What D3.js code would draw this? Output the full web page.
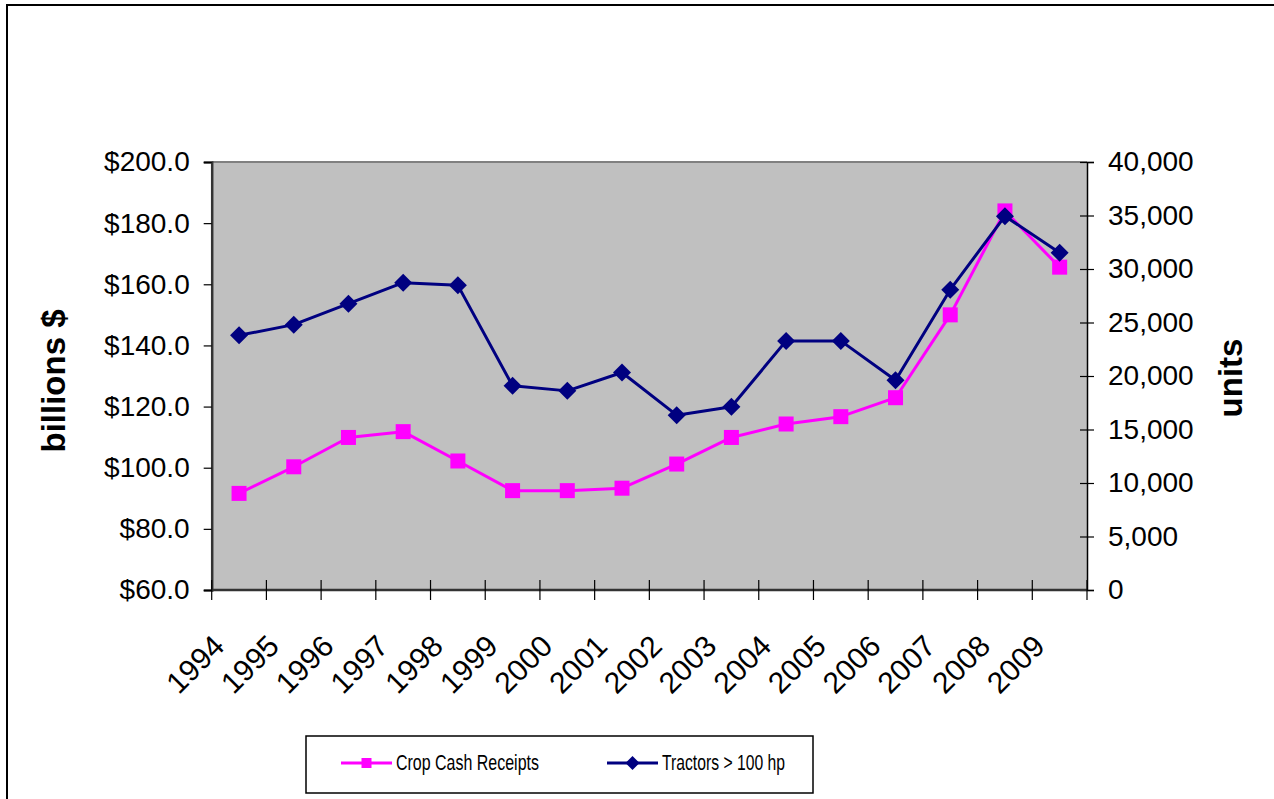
<!DOCTYPE html>
<html>
<head>
<meta charset="utf-8">
<script src="https://cdn.jsdelivr.net/npm/d3@7"></script>
<style>
  html, body { margin: 0; padding: 0; background: #fff; }
  svg { display: block; }
  text { font-family: "Liberation Sans", Arial, sans-serif; fill: #000; }
</style>
</head>
<body>
<svg id="chart" width="1274" height="799"></svg>
<script>
// Years on the category axis
const years = ["1994","1995","1996","1997","1998","1999","2000","2001",
               "2002","2003","2004","2005","2006","2007","2008","2009"];
// Crop cash receipts, billions of dollars (left axis)
const cropCashReceipts = [91.6, 100.3, 109.9, 111.8, 102.2, 92.5, 92.5, 93.3,
                          101.2, 109.9, 114.3, 116.7, 122.9, 150.0, 184.0, 165.6];
// Tractors over 100 hp sold, units (right axis)
const tractorsOver100hp = [23800, 24800, 26760, 28720, 28470, 19080, 18610, 20330,
                           16340, 17120, 23280, 23280, 19610, 28070, 34940, 31520];
// Axis tick values
const leftTicks = [60, 80, 100, 120, 140, 160, 180, 200];
const rightTicks = [0, 5000, 10000, 15000, 20000, 25000, 30000, 35000, 40000];
const seriesNames = ["Crop Cash Receipts", "Tractors > 100 hp"];

const svg = d3.select("#chart");

// Outer chart frame
svg.append("rect")
  .attr("x", 7).attr("y", 5)
  .attr("width", 1280).attr("height", 820)
  .attr("fill", "#fff").attr("stroke", "#000").attr("stroke-width", 2);

const plot = { left: 211.7, right: 1087, top: 162, bottom: 590 };

const x = d3.scaleBand().domain(years).range([plot.left, plot.right]).padding(0);
const yL = d3.scaleLinear().domain([60, 200]).range([plot.bottom, plot.top]);
const yR = d3.scaleLinear().domain([0, 40000]).range([plot.bottom, plot.top]);
const cx = d => x(d) + x.bandwidth() / 2;

// Plot area
svg.append("rect")
  .attr("x", plot.left).attr("y", plot.top)
  .attr("width", plot.right - plot.left).attr("height", plot.bottom - plot.top)
  .attr("fill", "#c0c0c0");
svg.append("line")
  .attr("x1", plot.left).attr("x2", plot.right)
  .attr("y1", plot.top).attr("y2", plot.top)
  .attr("stroke", "#808080").attr("stroke-width", 2);

// Left value axis
const gL = svg.append("g")
  .attr("transform", `translate(${plot.left},0)`)
  .call(d3.axisLeft(yL).tickValues(leftTicks).tickSizeOuter(0).tickSize(8)
    .tickPadding(14).tickFormat(d => "$" + d.toFixed(1)));
gL.select(".domain").attr("stroke", "#333").attr("stroke-width", 2.5);
gL.selectAll(".tick line").attr("stroke", "#000").attr("stroke-width", 1.2);
gL.selectAll(".tick text").attr("font-size", 28).attr("font-family", "Liberation Sans, Arial, sans-serif").attr("fill", "#000");

// Right value axis (ticks cross the axis line)
const gR = svg.append("g")
  .attr("transform", `translate(${plot.right},0)`)
  .call(d3.axisRight(yR).tickValues(rightTicks).tickSizeOuter(0).tickSize(7)
    .tickPadding(14).tickFormat(d3.format(",")));
gR.select(".domain").attr("stroke", "#000").attr("stroke-width", 1.5);
gR.selectAll(".tick line").attr("x1", -7).attr("stroke", "#000").attr("stroke-width", 1.2);
gR.selectAll(".tick text").attr("font-size", 28).attr("font-family", "Liberation Sans, Arial, sans-serif").attr("fill", "#000");

// Category axis: tick marks on the category boundaries
const gX = svg.append("g").attr("class", "x-axis");
gX.append("line")
  .attr("x1", plot.left).attr("x2", plot.right)
  .attr("y1", plot.bottom).attr("y2", plot.bottom)
  .attr("stroke", "#333").attr("stroke-width", 2.5);
const boundaries = years.map(d => x(d)).concat([x(years[years.length - 1]) + x.bandwidth()]);
gX.selectAll("line.tick")
  .data(boundaries)
  .join("line")
  .attr("class", "tick")
  .attr("x1", d => d).attr("x2", d => d)
  .attr("y1", plot.bottom - 10).attr("y2", plot.bottom + 10)
  .attr("stroke", "#000").attr("stroke-width", 1.2);
gX.selectAll("text")
  .data(years)
  .join("text")
  .attr("transform", d => `translate(${cx(d) - 13},${plot.bottom + 58}) rotate(-45)`)
  .attr("text-anchor", "end")
  .attr("font-size", 30)
  .text(d => d);

// Axis titles
svg.append("text")
  .attr("transform", `translate(65,381) rotate(-90)`)
  .attr("text-anchor", "middle")
  .attr("font-size", 33).attr("font-weight", "bold")
  .text("billions $");
svg.append("text")
  .attr("transform", `translate(1242,378) rotate(-90)`)
  .attr("text-anchor", "middle")
  .attr("font-size", 33).attr("font-weight", "bold")
  .text("units");

// Series
const pink = "#ff00ff", navy = "#000080";

const lineCrop = d3.line().x((d, i) => cx(years[i])).y(d => yL(d));
const lineTractor = d3.line().x((d, i) => cx(years[i])).y(d => yR(d));

svg.append("path").datum(cropCashReceipts)
  .attr("d", lineCrop).attr("fill", "none")
  .attr("stroke", pink).attr("stroke-width", 3).attr("stroke-linejoin", "round");
svg.selectAll("rect.crop")
  .data(cropCashReceipts)
  .join("rect")
  .attr("class", "crop")
  .attr("x", (d, i) => cx(years[i]) - 7.5)
  .attr("y", d => yL(d) - 7.5)
  .attr("width", 15).attr("height", 15)
  .attr("fill", pink);

svg.append("path").datum(tractorsOver100hp)
  .attr("d", lineTractor).attr("fill", "none")
  .attr("stroke", navy).attr("stroke-width", 3).attr("stroke-linejoin", "round");
const diamond = r => `M0,${-r}L${r},0L0,${r}L${-r},0Z`;
svg.selectAll("path.tractor")
  .data(tractorsOver100hp)
  .join("path")
  .attr("class", "tractor")
  .attr("transform", (d, i) => `translate(${cx(years[i])},${yR(d)})`)
  .attr("d", diamond(9))
  .attr("fill", navy);

// Legend
const legend = svg.append("g");
legend.append("rect")
  .attr("x", 306).attr("y", 736).attr("width", 507).attr("height", 57)
  .attr("fill", "#fff").attr("stroke", "#000").attr("stroke-width", 1.5);
const legendItems = [
  { name: seriesNames[0], color: pink, x0: 341, textLen: 143, marker: "square" },
  { name: seriesNames[1], color: navy, x0: 607, textLen: 123, marker: "diamond" }
];
legendItems.forEach(it => {
  legend.append("line")
    .attr("x1", it.x0).attr("x2", it.x0 + 51)
    .attr("y1", 763).attr("y2", 763)
    .attr("stroke", it.color).attr("stroke-width", 3);
  if (it.marker === "square") {
    legend.append("rect")
      .attr("x", it.x0 + 25.5 - 5).attr("y", 763 - 5)
      .attr("width", 10).attr("height", 10).attr("fill", it.color);
  } else {
    legend.append("path")
      .attr("transform", `translate(${it.x0 + 25.5},763)`)
      .attr("d", diamond(7)).attr("fill", it.color);
  }
  legend.append("text")
    .attr("x", it.x0 + 55).attr("y", 770)
    .attr("font-size", 22)
    .attr("textLength", it.textLen).attr("lengthAdjust", "spacingAndGlyphs")
    .text(it.name);
});
</script>
</body>
</html>
